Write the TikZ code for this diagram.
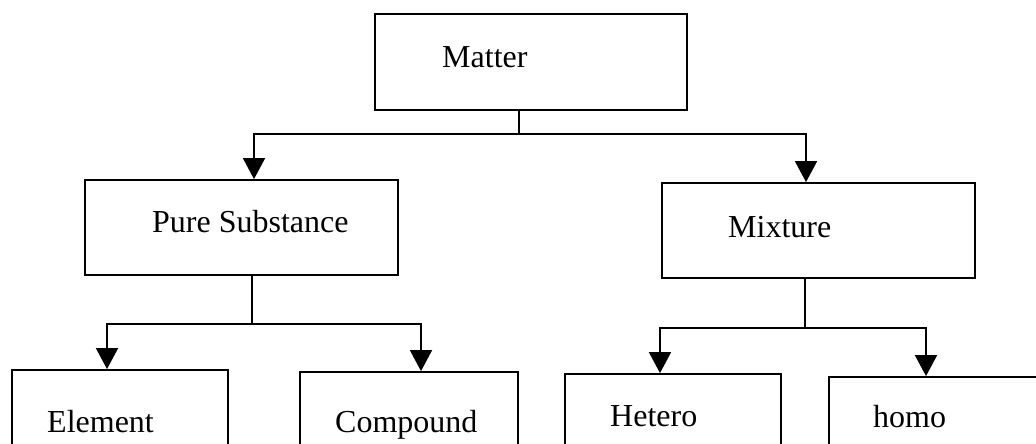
\documentclass[tikz,border=0pt]{standalone}
\usepackage{fontspec}
\setmainfont{Liberation Serif}
\usetikzlibrary{arrows.meta}
\begin{document}
\begin{tikzpicture}[x=1pt,y=-1pt,
  box/.style={draw,line width=1.8pt,inner sep=0pt,minimum width=#1},
  box/.default=216pt,
  lbl/.style={anchor=base west,inner sep=0pt,font=\fontsize{32pt}{37pt}\selectfont},
  line/.style={line width=1.8pt},
  arr/.style={line width=1.8pt,-{Triangle[width=22pt,length=21pt]}}]
\useasboundingbox (0,0) rectangle (1036,444);
\clip (0,0) rectangle (1036,444);

% boxes
\node[box=312pt,minimum height=96pt] (matter) at (531,62) {};
\node[box=313pt,minimum height=95pt] (pure) at (241.5,227.5) {};
\node[box=313pt,minimum height=95pt] (mixture) at (818.5,230.5) {};
\node[box=216pt,minimum height=100pt] (element) at (120,420) {};
\node[box=218pt,minimum height=100pt] (compound) at (409,422) {};
\node[box=216pt,minimum height=100pt] (hetero) at (673,424) {};
\node[box=216pt,minimum height=100pt] (homo) at (937,427) {};

% labels
\node[lbl] (matterT) at (442,67) {Matter};
\node[lbl] (pureT) at (152,232) {Pure Substance};
\node[lbl] (mixtureT) at (728,237) {Mixture};
\node[lbl] (elementT) at (47,432) {Element};
\node[lbl] (compoundT) at (335,432) {Compound};
\node[lbl] (heteroT) at (610,426) {Hetero};
\node[lbl] (homoT) at (873,427) {homo};

% Matter -> Pure Substance, Mixture
\draw[line] ([xshift=-12pt]matter.south) -- ++(0,23) coordinate (m0);
\draw[arr] (m0) -| ([xshift=12.5pt]pure.north);
\draw[arr] (m0) -| ([xshift=-12.5pt]mixture.north);

% Pure Substance -> Element, Compound
\draw[line] ([xshift=10.5pt]pure.south) -- ++(0,48) coordinate (p0);
\draw[arr] (p0) -| ([xshift=-13pt]element.north);
\draw[arr] (p0) -| ([xshift=12pt]compound.north);

% Mixture -> Hetero, homo
\draw[line] ([xshift=-13.5pt]mixture.south) -- ++(0,49) coordinate (x0);
\draw[arr] (x0) -| ([xshift=-13pt]hetero.north);
\draw[arr] (x0) -| ([xshift=-11pt]homo.north);
\end{tikzpicture}
\end{document}
